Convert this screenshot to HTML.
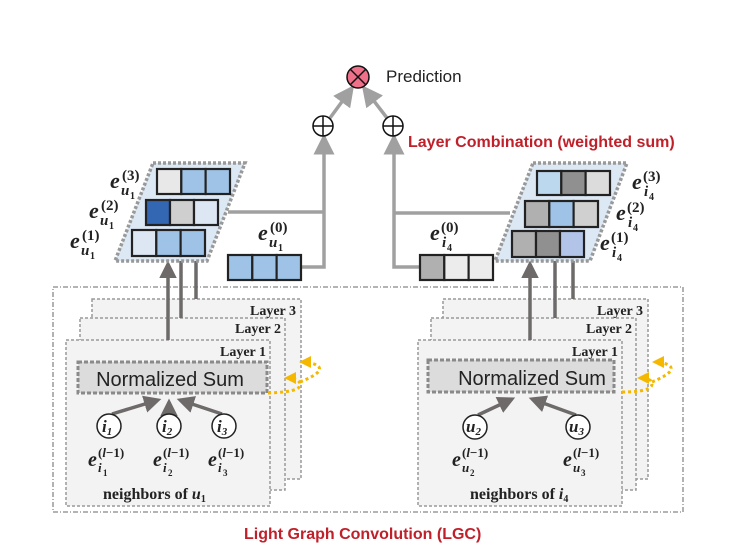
<!DOCTYPE html><html><head><style>body{margin:0;background:#fff}svg{display:block}text{font-family:"Liberation Serif",serif}.s{font-family:"Liberation Sans",sans-serif}</style></head><body>
<svg width="736" height="558" viewBox="0 0 736 558" xmlns="http://www.w3.org/2000/svg">
<defs>
<marker id="ag" markerWidth="6" markerHeight="6" refX="5" refY="3" orient="auto" markerUnits="strokeWidth"><path d="M0,0 L6,3 L0,6 Z" fill="#a0a0a0"/></marker>
<marker id="ad" markerWidth="5" markerHeight="5" refX="4" refY="2.5" orient="auto" markerUnits="strokeWidth"><path d="M0,0 L5,2.5 L0,5 Z" fill="#6e6a6a"/></marker>
<marker id="ay" markerWidth="4" markerHeight="4" refX="3" refY="2" orient="auto" markerUnits="strokeWidth"><path d="M0,0 L4,2 L0,4 Z" fill="#f5b800"/></marker>
</defs>
<rect x="53" y="287" width="630" height="225" fill="#fff" stroke="#888" stroke-width="1.3" stroke-dasharray="5,2,1,2"/>
<g stroke="#999" stroke-width="1.5" stroke-dasharray="3,2" fill="#f3f3f3">
<rect x="92" y="299" width="209" height="180"/><rect x="80" y="318" width="205" height="172"/><rect x="66" y="340" width="204" height="166"/>
<rect x="443" y="299" width="205" height="180"/><rect x="431" y="318" width="205" height="172"/><rect x="418" y="340" width="204" height="166"/>
</g>
<g font-weight="bold" font-size="14" fill="#222" text-anchor="end">
<text x="296" y="315">Layer 3</text><text x="281" y="333">Layer 2</text><text x="266" y="356">Layer 1</text>
<text x="643" y="315">Layer 3</text><text x="632" y="333">Layer 2</text><text x="618" y="356">Layer 1</text>
</g>
<g fill="#dcdcdc" stroke="#8a8a8a" stroke-width="3" stroke-dasharray="4,2">
<rect x="78" y="362" width="189" height="31"/><rect x="428" y="360" width="186" height="32"/>
</g>
<text class="s" x="170" y="386" font-size="20" fill="#222" text-anchor="middle">Normalized Sum</text>
<text class="s" x="532" y="385" font-size="20" fill="#222" text-anchor="middle">Normalized Sum</text>
<g stroke="#6e6a6a" stroke-width="3.5" fill="none" marker-end="url(#ad)">
<line x1="112" y1="414" x2="158" y2="400"/><line x1="169" y1="414" x2="169" y2="402"/><line x1="222" y1="414" x2="180" y2="400"/>
<line x1="478" y1="415" x2="512" y2="399"/><line x1="576" y1="415" x2="532" y2="399"/>
</g>
<g fill="#fff" stroke="#222" stroke-width="1.5">
<circle cx="109" cy="426" r="12"/><circle cx="169" cy="426" r="12"/><circle cx="224" cy="426" r="12"/>
<circle cx="475" cy="427" r="12"/><circle cx="578" cy="427" r="12"/>
</g>
<g font-style="italic" font-weight="bold" fill="#222">
<text x="102" y="432" font-size="17">i<tspan font-size="11" dy="3">1</tspan></text>
<text x="162" y="432" font-size="17">i<tspan font-size="11" dy="3">2</tspan></text>
<text x="217" y="432" font-size="17">i<tspan font-size="11" dy="3">3</tspan></text>
<text x="466" y="432" font-size="17">u<tspan font-size="11" dy="3">2</tspan></text>
<text x="569" y="432" font-size="17">u<tspan font-size="11" dy="3">3</tspan></text>
</g>
<g font-weight="bold" fill="#222">
<g font-style="italic" font-size="20"><text x="88" y="466">e</text><text x="153" y="466">e</text><text x="208" y="466">e</text><text x="452" y="466">e</text><text x="563" y="466">e</text></g>
<g font-size="13"><text x="98" y="457">(<tspan font-style="italic">l</tspan>−1)</text><text x="163" y="457">(<tspan font-style="italic">l</tspan>−1)</text><text x="218" y="457">(<tspan font-style="italic">l</tspan>−1)</text><text x="462" y="457">(<tspan font-style="italic">l</tspan>−1)</text><text x="573" y="457">(<tspan font-style="italic">l</tspan>−1)</text></g>
<g font-style="italic" font-size="13"><text x="98" y="472">i</text><text x="163" y="472">i</text><text x="218" y="472">i</text><text x="462" y="472">u</text><text x="573" y="472">u</text></g>
<g font-size="9"><text x="103" y="476">1</text><text x="168" y="476">2</text><text x="223" y="476">3</text><text x="470" y="476">2</text><text x="581" y="476">3</text></g>
</g>
<text x="103" y="499" font-size="16" font-weight="bold" fill="#222">neighbors of <tspan font-style="italic">u</tspan><tspan font-size="10" dy="3">1</tspan></text>
<text x="470" y="499" font-size="16" font-weight="bold" fill="#222">neighbors of <tspan font-style="italic">i</tspan><tspan font-size="10" dy="3">4</tspan></text>
<g stroke="#f5b800" stroke-width="3" stroke-dasharray="3,3" fill="none">
<path d="M268,393 Q300,392 300,385 Q300,378 287,378" marker-end="url(#ay)"/>
<path d="M300,382 Q325,372 318,366 Q312,362 302,362" marker-end="url(#ay)"/>
<path d="M622,392 Q652,392 652,384 Q652,378 640,378" marker-end="url(#ay)"/>
<path d="M652,382 Q676,372 670,366 Q664,362 655,362" marker-end="url(#ay)"/>
</g>
<g stroke="#6e6a6a" stroke-width="3.5" marker-end="url(#ad)">
<line x1="168" y1="340" x2="168" y2="264"/><line x1="181" y1="318" x2="181" y2="232"/><line x1="196" y1="299" x2="196" y2="200"/>
<line x1="530" y1="340" x2="530" y2="264"/><line x1="555" y1="318" x2="555" y2="233"/><line x1="573" y1="299" x2="573" y2="201"/>
</g>
<g fill="#dce9f5" stroke="#999" stroke-width="3.5" stroke-dasharray="3,2">
<polygon points="153,163 245,163 207,261 115,261"/><polygon points="533,163 627,163 590,261 495,261"/>
</g>
<g stroke="#a0a0a0" stroke-width="3.5" fill="none">
<polyline points="301,267 324,267 324,137" marker-end="url(#ag)"/><line x1="228" y1="212" x2="324" y2="212"/>
<polyline points="420,267 394,267 394,137" marker-end="url(#ag)"/><line x1="394" y1="213" x2="510" y2="213"/>
<line x1="330" y1="118" x2="352" y2="88" marker-end="url(#ag)"/><line x1="387" y1="118" x2="364" y2="88" marker-end="url(#ag)"/>
</g>
<g stroke="#222" stroke-width="2.2">
<rect x="157" y="169" width="24.3" height="25" fill="#e8e8e8"/><rect x="181.3" y="169" width="24.3" height="25" fill="#9fc3e6"/><rect x="205.6" y="169" width="24.4" height="25" fill="#9fc3e6"/>
<rect x="146" y="200" width="24" height="25" fill="#3366b3"/><rect x="170" y="200" width="24" height="25" fill="#cfcfcf"/><rect x="194" y="200" width="24" height="25" fill="#dce7f3"/>
<rect x="132" y="230" width="24.3" height="26" fill="#dce7f3"/><rect x="156.3" y="230" width="24.3" height="26" fill="#9fc3e6"/><rect x="180.6" y="230" width="24.4" height="26" fill="#9fc3e6"/>
<rect x="228" y="255" width="24.3" height="25" fill="#9fc3e6"/><rect x="252.3" y="255" width="24.3" height="25" fill="#9fc3e6"/><rect x="276.6" y="255" width="24.4" height="25" fill="#9fc3e6"/>
<rect x="537" y="171" width="24.3" height="24" fill="#bcd8ef"/><rect x="561.3" y="171" width="24.3" height="24" fill="#909090"/><rect x="585.6" y="171" width="24.4" height="24" fill="#dcdcdc"/>
<rect x="525" y="201" width="24.3" height="26" fill="#b0b0b0"/><rect x="549.3" y="201" width="24.3" height="26" fill="#9fc3e6"/><rect x="573.6" y="201" width="24.4" height="26" fill="#d0d0d0"/>
<rect x="512" y="231" width="24" height="26" fill="#b0b0b0"/><rect x="536" y="231" width="24" height="26" fill="#909090"/><rect x="560" y="231" width="24" height="26" fill="#b2c5e8"/>
<rect x="420" y="255" width="24.3" height="25" fill="#b0b0b0"/><rect x="444.3" y="255" width="24.3" height="25" fill="#ececec"/><rect x="468.6" y="255" width="24.4" height="25" fill="#ececec"/>
</g>
<g font-weight="bold" fill="#222">
<g font-style="italic" font-size="22">
<text x="110" y="188">e</text><text x="89" y="218">e</text><text x="70" y="248">e</text><text x="258" y="240">e</text>
<text x="632" y="189">e</text><text x="616" y="220">e</text><text x="600" y="250">e</text><text x="430" y="240">e</text>
</g>
<g font-size="15">
<text x="122" y="180">(3)</text><text x="101" y="210">(2)</text><text x="82" y="240">(1)</text><text x="270" y="232">(0)</text>
<text x="643" y="181">(3)</text><text x="627" y="212">(2)</text><text x="611" y="242">(1)</text><text x="441" y="232">(0)</text>
</g>
<g font-style="italic" font-size="15">
<text x="121" y="195">u</text><text x="100" y="225">u</text><text x="81" y="255">u</text><text x="269" y="247">u</text>
<text x="644" y="196">i</text><text x="628" y="227">i</text><text x="612" y="257">i</text><text x="442" y="247">i</text>
</g>
<g font-size="10">
<text x="130" y="199">1</text><text x="109" y="229">1</text><text x="90" y="259">1</text><text x="278" y="251">1</text>
<text x="649" y="200">4</text><text x="633" y="231">4</text><text x="617" y="261">4</text><text x="447" y="251">4</text>
</g>
</g>
<g stroke="#111" stroke-width="1.5">
<circle cx="323" cy="126" r="10" fill="#fff"/><line x1="313" y1="126" x2="333" y2="126"/><line x1="323" y1="116" x2="323" y2="136"/>
<circle cx="393" cy="126" r="10" fill="#fff"/><line x1="383" y1="126" x2="403" y2="126"/><line x1="393" y1="116" x2="393" y2="136"/>
<circle cx="358" cy="77" r="11" fill="#f0708a"/><line x1="350" y1="69" x2="366" y2="85"/><line x1="366" y1="69" x2="350" y2="85"/>
</g>
<text class="s" x="386" y="82" font-size="17" fill="#222">Prediction</text>
<text class="s" x="408" y="147" font-size="16" font-weight="bold" fill="#c0202a">Layer Combination (weighted sum)</text>
<text class="s" x="244" y="539" font-size="16" font-weight="bold" fill="#c0202a">Light Graph Convolution (LGC)</text>
</svg>
</body></html>
